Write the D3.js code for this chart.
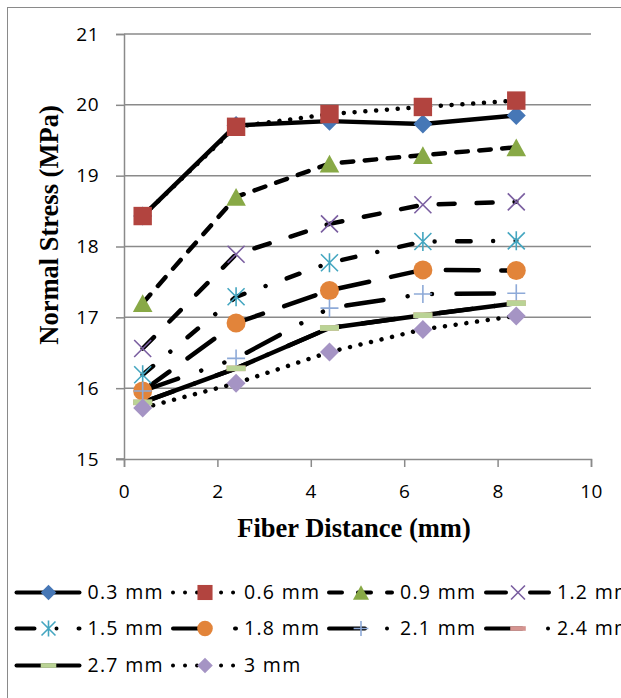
<!DOCTYPE html>
<html>
<head>
<meta charset="utf-8">
<script src="https://cdn.jsdelivr.net/npm/d3@7"></script>
<style>
  html, body { margin: 0; padding: 0; background: #fff; }
  svg { display: block; }
</style>
</head>
<body>
<svg id="chart" width="621" height="698"></svg>
<script>
// ---- data ----
const fiberDistance = [0.4, 2.4, 4.4, 6.4, 8.4];
const seriesNames = ["0.3 mm", "0.6 mm", "0.9 mm", "1.2 mm", "1.5 mm", "1.8 mm", "2.1 mm", "2.4 mm", "2.7 mm", "3 mm"];
const s03 = [18.43, 19.71, 19.77, 19.73, 19.85];
const s06 = [18.43, 19.69, 19.87, 19.97, 20.06];
const s09 = [17.20, 18.70, 19.17, 19.29, 19.40];
const s12 = [16.56, 17.89, 18.32, 18.59, 18.63];
const s15 = [16.19, 17.29, 17.77, 18.07, 18.08];
const s18 = [15.96, 16.92, 17.38, 17.67, 17.66];
const s21 = [15.96, 16.42, 17.13, 17.33, 17.34];
const s24 = [15.80, 16.28, 16.85, 17.03, 17.20];
const s27 = [15.80, 16.28, 16.85, 17.03, 17.20];
const s30 = [15.72, 16.07, 16.51, 16.83, 17.02];
const xTicks = [0, 2, 4, 6, 8, 10];
const yTicks = [15, 16, 17, 18, 19, 20, 21];
const xTitle = "Fiber Distance (mm)";
const yTitle = "Normal Stress (MPa)";

const allValues = [s03, s06, s09, s12, s15, s18, s21, s24, s27, s30];

// ---- styles ----
const styles = [
  { marker: "diamond", color: "#4677b6", dash: null },
  { marker: "square", color: "#b2443f", dash: [0.01, 10.8] },
  { marker: "triangle", color: "#88a946", dash: [11.5, 11.5] },
  { marker: "x", color: "#7a5ea0", dash: [16, 22] },
  { marker: "asterisk", color: "#44a6c0", dash: [13.5, 22.5, 0.01, 22.5] },
  { marker: "circle", color: "#e2843a", dash: [33, 22.5] },
  { marker: "plus", color: "#8eaad8", dash: [37.5, 24.5, 0.01, 24.5, 0.01, 24.5] },
  { marker: "bar", color: "#d59490", dash: [33, 22.5, 0.01, 22.5] },
  { marker: "bar", color: "#bad395", dash: null },
  { marker: "diamond", color: "#a594c4", dash: [0.01, 10.8] }
];
// legend sample patterns (legend samples are drawn a little longer)
const legendDash = [
  null, [0.01, 12], [13, 16], [20, 24], [18, 22, 0.01, 22], [26, 36], [36, 22, 0.01, 30], [36, 26, 0.01, 30], null, [0.01, 12]
];

const series = seriesNames.map((name, i) => ({
  name,
  points: fiberDistance.map((x, j) => ({ x, y: allValues[i][j] })),
  legendDash: legendDash[i],
  ...styles[i]
}));

const svg = d3.select("#chart");
const font = "'Open Sans', 'Liberation Sans', sans-serif";
const serif = "'Liberation Serif', 'Times New Roman', serif";
const axisColor = "#8a8a8a";

// outer border
svg.append("rect").attr("x", 7.5).attr("y", 7.5).attr("width", 700).attr("height", 800)
  .attr("fill", "none").attr("stroke", "#8a8a8a").attr("stroke-width", 1);

const x = d3.scaleLinear().domain([0, 10]).range([124, 591]);
const y = d3.scaleLinear().domain([15, 21]).range([459, 34]);

// gridlines
svg.append("g").selectAll("line").data(yTicks.filter(t => t > 15)).join("line")
  .attr("x1", x(0)).attr("x2", x(10))
  .attr("y1", d => y(d)).attr("y2", d => y(d))
  .attr("stroke", axisColor).attr("stroke-width", 1.5);

// y axis
const yAxis = d3.axisLeft(y).tickValues(yTicks).tickSize(8).tickPadding(17).tickFormat(d3.format("d"));
const gy = svg.append("g").attr("transform", `translate(${x(0)},0)`).call(yAxis);
// x axis
const xAxis = d3.axisBottom(x).tickValues(xTicks).tickSize(8).tickPadding(18).tickFormat(d3.format("d"));
const gx = svg.append("g").attr("transform", `translate(0,${y(15)})`).call(xAxis);

[gy, gx].forEach(g => {
  g.select(".domain").attr("stroke", axisColor).attr("stroke-width", 1.5);
  g.selectAll(".tick line").attr("stroke", axisColor).attr("stroke-width", 1.5);
  g.selectAll(".tick text").attr("fill", "#000").style("font-family", font).style("font-size", "19px")
    .style("letter-spacing", "0.5px");
});
// extend x axis line to meet the y ticks
svg.append("line").attr("x1", x(0) - 8).attr("x2", x(0)).attr("y1", y(15)).attr("y2", y(15))
  .attr("stroke", axisColor).attr("stroke-width", 1.5);

// axis titles
svg.append("text").attr("x", 354).attr("y", 537).attr("text-anchor", "middle")
  .style("font-family", serif).style("font-weight", "bold").style("font-size", "26.5px")
  .text(xTitle);
svg.append("text").attr("transform", "translate(58,225) rotate(-90)").attr("text-anchor", "middle")
  .style("font-family", serif).style("font-weight", "bold").style("font-size", "26.5px")
  .text(yTitle);

// markers
function drawMarker(g, type, color, cx, cy, s) {
  if (type === "diamond") {
    const h = 9.5 * s;
    g.append("path").attr("d", `M${cx},${cy - h}L${cx + h},${cy}L${cx},${cy + h}L${cx - h},${cy}Z`).attr("fill", color);
  } else if (type === "square") {
    const h = 9.2 * s;
    g.append("rect").attr("x", cx - h).attr("y", cy - h).attr("width", 2 * h).attr("height", 2 * h).attr("fill", color);
  } else if (type === "triangle") {
    const w = 9.8 * s, hh = 8.8 * s;
    g.append("path").attr("d", `M${cx},${cy - hh}L${cx + w},${cy + hh}L${cx - w},${cy + hh}Z`).attr("fill", color);
  } else if (type === "circle") {
    g.append("circle").attr("cx", cx).attr("cy", cy).attr("r", 9.5 * s).attr("fill", color);
  } else if (type === "x") {
    const h = 8.5 * s;
    g.append("path").attr("d", `M${cx - h},${cy - h}L${cx + h},${cy + h}M${cx - h},${cy + h}L${cx + h},${cy - h}`)
      .attr("stroke", color).attr("stroke-width", 1.6).attr("fill", "none");
  } else if (type === "asterisk") {
    const h = 8.5 * s;
    g.append("path").attr("d", `M${cx - h},${cy - h}L${cx + h},${cy + h}M${cx - h},${cy + h}L${cx + h},${cy - h}M${cx},${cy - h - 1}L${cx},${cy + h + 1}`)
      .attr("stroke", color).attr("stroke-width", 1.6).attr("fill", "none");
  } else if (type === "plus") {
    const h = 9 * s;
    g.append("path").attr("d", `M${cx - h},${cy}L${cx + h},${cy}M${cx},${cy - h}L${cx},${cy + h}`)
      .attr("stroke", color).attr("stroke-width", 1.6).attr("fill", "none");
  } else if (type === "bar") {
    const w = 9.5 * s, hh = 2.8 * s;
    g.append("rect").attr("x", cx - w).attr("y", cy - hh).attr("width", 2 * w).attr("height", 2 * hh).attr("fill", color);
  }
}

const line = d3.line().x(d => x(d.x)).y(d => y(d.y));
const linesG = svg.append("g");
series.forEach(s => {
  linesG.append("path").datum(s.points).attr("d", line)
    .attr("fill", "none").attr("stroke", "#000").attr("stroke-width", 4.5)
    .attr("stroke-linecap", "round").attr("stroke-linejoin", "round")
    .attr("stroke-dasharray", s.dash ? s.dash.join(",") : null);
});
const markersG = svg.append("g");
series.forEach(s => {
  s.points.forEach(p => drawMarker(markersG, s.marker, s.color, x(p.x), y(p.y), 1));
});

// legend
const legendG = svg.append("g");
const colX = [15.5, 172, 328, 485];
const rowY = [592.5, 628.5, 665.5];
series.forEach((s, i) => {
  const c = i % 4, r = Math.floor(i / 4);
  const x0 = colX[c], yy = rowY[r];
  const g = legendG.append("g");
  g.append("line").attr("x1", x0 + 1).attr("x2", x0 + 64).attr("y1", yy).attr("y2", yy)
    .attr("stroke", "#000").attr("stroke-width", 4)
    .attr("stroke-linecap", "round")
    .attr("stroke-dasharray", s.legendDash ? s.legendDash.join(",") : null);
  drawMarker(g, s.marker, s.color, x0 + 33, yy, 0.82);
  g.append("text").attr("x", x0 + 72).attr("y", yy + 6.8)
    .style("font-family", font).style("font-size", "19.5px").style("letter-spacing", "1.3px")
    .attr("fill", "#000")
    .text(s.name);
});
</script>
</body>
</html>
